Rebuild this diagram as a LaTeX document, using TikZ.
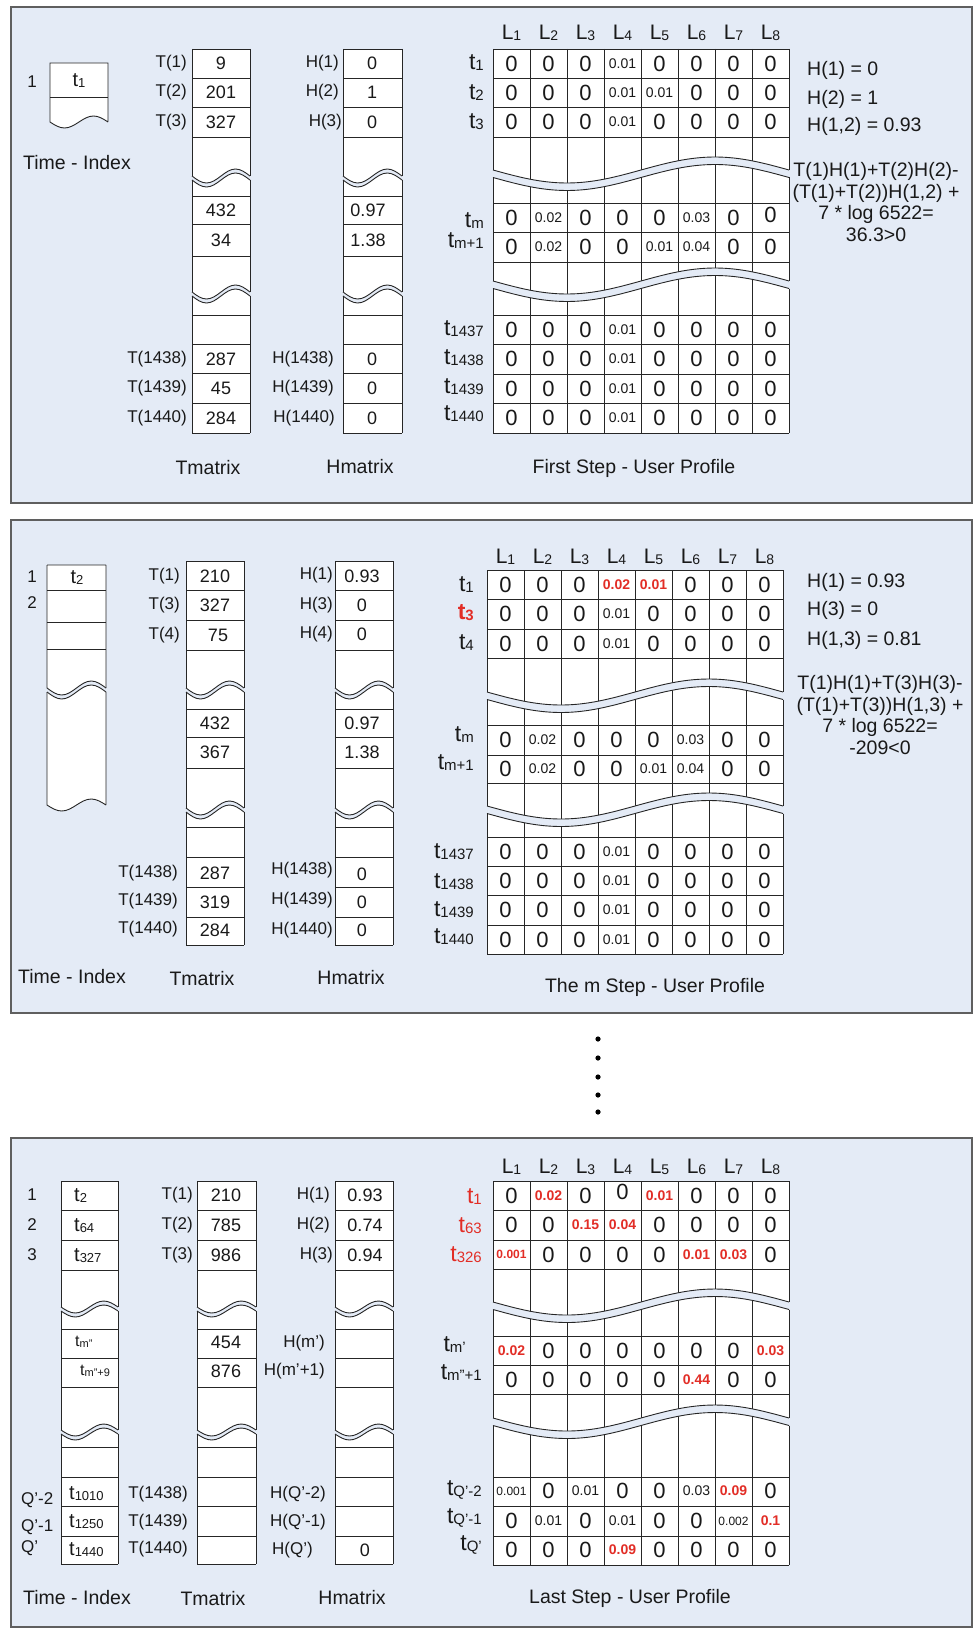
\documentclass[tikz,border=0pt]{standalone}
\usepackage{fontspec}
\setmainfont{Liberation Sans}
\definecolor{panelbg}{RGB}{228,235,246}
\definecolor{redc}{RGB}{226,45,38}
\definecolor{framec}{RGB}{95,95,95}
\newcommand\fs[1]{\fontsize{#1}{#1}\selectfont}
\newcommand\tlab[1]{{\fs{23}t\raisebox{-1pt}{\fs{15}#1}}}
\newcommand\tix[1]{{\fs{20}t\raisebox{-1pt}{\fs{13}#1}}}
\newcommand\tis[1]{{\fs{16}t\raisebox{-1pt}{\fs{11}#1}}}
\newcommand\llab[1]{{\fs{21}L\raisebox{-0.5pt}{\fs{14}#1}}}
\newcommand\zz{{\fs{22}0}}
\newcommand\zzu{\raisebox{6pt}{\zz}}
\newcommand\zzd{\raisebox{-5pt}{\zz}}
\newcommand\zzul{\raisebox{7pt}{\zz}\hspace{12pt}}
\newcommand\sm[1]{{\fs{14}#1}}
\newcommand\smm[1]{{\fs{12}#1}}
\newcommand\rd[1]{{\fs{14}\bfseries\color{redc}#1}}
\newcommand\rdm[1]{{\fs{12}\bfseries\color{redc}#1}}
\newcommand\wv[4]{sin ({#1+(#2-#1)/4},{#3+#4}) cos ({(#1+#2)/2},{#3}) sin ({#1+3*(#2-#1)/4},{#3-#4}) cos ({#2},{#3})}
\newcommand\wvr[4]{sin ({#1+3*(#2-#1)/4},{#3-#4}) cos ({(#1+#2)/2},{#3}) sin ({#1+(#2-#1)/4},{#3+#4}) cos ({#1},{#3})}
\newcommand\wband[5]{%
  \fill[panelbg] ({#1},{#3}) \wv{#1}{#2}{#3}{#4} -- ({#2},{#3+#5}) \wvr{#1}{#2}{#3+#5}{#4} -- cycle;
  \draw[cl] ({#1},{#3}) \wv{#1}{#2}{#3}{#4};
  \draw[cl] ({#1},{#3+#5}) \wv{#1}{#2}{#3+#5}{#4};}
\newcommand\colbox[9]{%
  \fill[white] ({#1},{#3}) rectangle ({#2},{#4});
  \foreach \yy in {#9} \draw[cl] ({#1},\yy) -- ({#2},\yy);
  \wband{#1}{#2}{#5}{#7}{#8}
  \wband{#1}{#2}{#6}{#7}{#8}
  \draw[cl] ({#1},{#3}) -- ({#2},{#3}) ({#1},{#4}) -- ({#2},{#4})
    ({#1},{#3}) -- ({#1},{#5}) ({#1},{#5+#8}) -- ({#1},{#6}) ({#1},{#6+#8}) -- ({#1},{#4})
    ({#2},{#3}) -- ({#2},{#5}) ({#2},{#5+#8}) -- ({#2},{#6}) ({#2},{#6+#8}) -- ({#2},{#4});}
\newcommand\gridbox[9]{%
  \fill[white] ({#1},{#3}) rectangle ({#1+8*#2},{#4});
  \foreach \yy in {#9} \draw[cl] ({#1},\yy) -- ({#1+8*#2},\yy);
  \foreach \k in {1,...,7} \draw[cl] ({#1+\k*#2},{#3}) -- ({#1+\k*#2},{#4});
  \wband{#1}{#1+8*#2}{#5}{#7}{#8}
  \wband{#1}{#1+8*#2}{#6}{#7}{#8}
  \draw[cl] ({#1},{#3}) -- ({#1+8*#2},{#3}) ({#1},{#4}) -- ({#1+8*#2},{#4})
    ({#1},{#3}) -- ({#1},{#5}) ({#1},{#5+#8}) -- ({#1},{#6}) ({#1},{#6+#8}) -- ({#1},{#4})
    ({#1+8*#2},{#3}) -- ({#1+8*#2},{#5}) ({#1+8*#2},{#5+#8}) -- ({#1+8*#2},{#6}) ({#1+8*#2},{#6+#8}) -- ({#1+8*#2},{#4});}
\newcommand\gridrow[5]{\foreach \v [count=\i] in {#5} \node[cell] (#1-\i) at ({#2+(\i-0.5)*#3},{#4}) {\v};}
\tikzset{
  cl/.style={draw=black!85, line width=0.9pt},
  panel/.style={fill=panelbg, draw=framec, line width=1.4pt},
  cell/.style={inner sep=0pt, anchor=center, text=black!90},
  lab/.style={inner sep=0pt, font=\fs{17}, text=black!90},
  val/.style={inner sep=0pt, font=\fs{18}, text=black!90},
  ttl/.style={inner sep=0pt, font=\fs{19.5}, text=black!90},
  hform/.style={inner sep=0pt, anchor=west, font=\fs{19.5}, text=black!90},
  form/.style={inner sep=0pt, font=\fontsize{19.5}{21.5}\selectfont, text=black!90, align=center},
}
\begin{document}
\begin{tikzpicture}[x=1pt,y=-1pt]
\useasboundingbox (0,0) rectangle (978,1629);
\fill[white] (0,0) rectangle (978,1629);
%================ PANEL 1
\draw[panel] (11,7) rectangle (972,503);
\fill[white] (50,63) -- (108,63) -- (108,122) \wvr{50}{108}{122}{6} -- cycle;
\draw[cl] (50,97) -- (108,97);
\draw[cl] (108,122) -- (108,63) -- (50,63) -- (50,122) \wv{50}{108}{122}{6};
\node[lab] (p1-i1) at (32,82) {1};
\node[cell] (p1-it1) at (79,81) {\tix{1}};
\node[ttl] (p1-ti) at (77,163) {Time - Index};
\colbox{192}{250}{49}{433}{176}{292}{7}{4}{78,107,137,196,224,256,315,344,373,403}
\colbox{343}{402}{49}{433}{176}{292}{7}{4}{78,107,137,196,224,256,315,344,373,403}
\foreach \y/\t [count=\i] in {63.5/T(1),92.5/T(2),122/T(3),359/T(1438),388/T(1439),418/T(1440)} \node[lab,anchor=east] (p1-tl\i) at (187,\y) {\t};
\foreach \y/\t [count=\i] in {63.5/9,92.5/201,122/327,210/432,240/34,359/287,388/45,418/284} \node[val] (p1-tv\i) at (221,\y) {\t};
\foreach \x/\y/\t [count=\i] in {339/63.5/H(1),339/92.5/H(2),342/122/H(3),334/359/H(1438),334/388/H(1439),335/418/H(1440)} \node[lab,anchor=east] (p1-hl\i) at (\x,\y) {\t};
\foreach \x/\y/\t [count=\i] in {372/63.5/0,372/92.5/1,372/122/0,368/210/0.97,368/240/1.38,372/359/0,372/388/0,372/418/0} \node[val] (p1-hv\i) at (\x,\y) {\t};
\node[ttl] (p1-tm) at (208,468) {Tmatrix};
\node[ttl] (p1-hm) at (360,467) {Hmatrix};
\gridbox{493}{37}{49}{433}{170}{281}{13}{7.5}{78,107,137,203,232.5,262,315,344,374,403}
\foreach \i in {1,...,8} \node[cell] (p1-L\i) at ({493+37*(\i-0.5)},33) {\llab{\i}};
\foreach \y/\t [count=\i] in {63/1,93/2,122/3,221/m,241/m+1,329/1437,358/1438,387/1439,414/1440} \node[cell,anchor=east] (p1-rl\i) at (484,\y) {\tlab{\t}};
\gridrow{p1-a}{493}{37}{63.5}{\zz,\zz,\zz,\sm{0.01},\zz,\zz,\zz,\zz}
\gridrow{p1-b}{493}{37}{92.5}{\zz,\zz,\zz,\sm{0.01},\sm{0.01},\zz,\zz,\zz}
\gridrow{p1-c}{493}{37}{122}{\zz,\zz,\zz,\sm{0.01},\zz,\zz,\zz,\zz}
\gridrow{p1-d}{493}{37}{218}{\zz,\sm{0.02},\zz,\zz,\zz,\sm{0.03},\zz,\zzu}
\gridrow{p1-e}{493}{37}{247}{\zz,\sm{0.02},\zz,\zz,\sm{0.01},\sm{0.04},\zz,\zz}
\gridrow{p1-f}{493}{37}{329.5}{\zz,\zz,\zz,\sm{0.01},\zz,\zz,\zz,\zz}
\gridrow{p1-g}{493}{37}{359}{\zz,\zz,\zz,\sm{0.01},\zz,\zz,\zz,\zz}
\gridrow{p1-h}{493}{37}{388.5}{\zz,\zz,\zz,\sm{0.01},\zz,\zz,\zz,\zz}
\gridrow{p1-k}{493}{37}{418}{\zz,\zz,\zz,\sm{0.01},\zz,\zz,\zz,\zz}
\node[hform] (p1-h1) at (807,70) {H(1) = 0};
\node[hform] (p1-h2) at (807,99) {H(2) = 1};
\node[hform] (p1-h12) at (807,126) {H(1,2) = 0.93};
\node[form] (p1-form) at (876,202) {T(1)H(1)+T(2)H(2)-\\(T(1)+T(2))H(1,2) +\\7 * log 6522=\\36.3>0};
\node[ttl] (p1-cap) at (634,468) {First Step - User Profile};
%================ PANEL 2
\draw[panel] (11,520) rectangle (972,1013);
\fill[white] (47,565) -- (106,565) -- (106,805) \wvr{47}{106}{805}{6} -- cycle;
\draw[cl] (47,590) -- (106,590) (47,622) -- (106,622) (47,649) -- (106,649);
\wband{47}{106}{688}{7}{4}
\draw[cl] (47,565) -- (106,565) (47,565) -- (47,688) (47,692) -- (47,805) \wv{47}{106}{805}{6} (106,805) -- (106,692) (106,688) -- (106,565);
\node[lab] (p2-i1) at (32,577) {1};
\node[lab] (p2-i2) at (32,603) {2};
\node[cell] (p2-it1) at (77,578) {\tix{2}};
\colbox{186}{244}{561}{945}{688}{808}{7}{4}{590,620,650,709,737,768,827,857,887,917}
\colbox{335}{393}{561}{945}{688}{808}{7}{4}{590,620,650,709,737,768,827,857,887,917}
\foreach \x/\y/\t [count=\i] in {180/576/T(1),180/605/T(3),180/635/T(4),178/873/T(1438),178/901/T(1439),178/929/T(1440)} \node[lab,anchor=east] (p2-tl\i) at (\x,\y) {\t};
\foreach \x/\y/\t [count=\i] in {215/576/210,215/605/327,218/635/75,215/723/432,215/752/367,215/873/287,215/902/319,215/930/284} \node[val] (p2-tv\i) at (\x,\y) {\t};
\foreach \y/\t [count=\i] in {575/H(1),605/H(3),634/H(4),870/H(1438),900/H(1439),930/H(1440)} \node[lab,anchor=east] (p2-hl\i) at (333,\y) {\t};
\foreach \x/\y/\t [count=\i] in {362/576/0.93,362/605/0,362/634/0,362/723/0.97,362/752/1.38,362/874/0,362/902/0,362/930/0} \node[val] (p2-hv\i) at (\x,\y) {\t};
\node[ttl] (p2-ti) at (72,977) {Time - Index};
\node[ttl] (p2-tm) at (202,979) {Tmatrix};
\node[ttl] (p2-hm) at (351,978) {Hmatrix};
\gridbox{487}{37}{570}{954}{692}{806}{13}{7.5}{599,629,658,725,755,783,837,866,895,925}
\foreach \i in {1,...,8} \node[cell] (p2-L\i) at ({487+37*(\i-0.5)},557) {\llab{\i}};
\node[cell,anchor=east] (p2-rl1) at (474,585) {\tlab{1}};
\node[cell,anchor=east,text=redc,font=\bfseries] (p2-rl2) at (474,613) {\tlab{3}};
\foreach \y/\t [count=\i from 3] in {643/4,735/m,763/m+1,852/1437,882/1438,910/1439,937/1440} \node[cell,anchor=east] (p2-rl\i) at (474,\y) {\tlab{\t}};
\gridrow{p2-a}{487}{37}{585}{\zz,\zz,\zz,\rd{0.02},\rd{0.01},\zz,\zz,\zz}
\gridrow{p2-b}{487}{37}{614}{\zz,\zz,\zz,\sm{0.01},\zz,\zz,\zz,\zz}
\gridrow{p2-c}{487}{37}{643.5}{\zz,\zz,\zz,\sm{0.01},\zz,\zz,\zz,\zz}
\gridrow{p2-d}{487}{37}{740}{\zz,\sm{0.02},\zz,\zz,\zz,\sm{0.03},\zz,\zz}
\gridrow{p2-e}{487}{37}{769}{\zz,\sm{0.02},\zz,\zz,\sm{0.01},\sm{0.04},\zz,\zz}
\gridrow{p2-f}{487}{37}{851.5}{\zz,\zz,\zz,\sm{0.01},\zz,\zz,\zz,\zz}
\gridrow{p2-g}{487}{37}{880.5}{\zz,\zz,\zz,\sm{0.01},\zz,\zz,\zz,\zz}
\gridrow{p2-h}{487}{37}{910}{\zz,\zz,\zz,\sm{0.01},\zz,\zz,\zz,\zz}
\gridrow{p2-k}{487}{37}{939.5}{\zz,\zz,\zz,\sm{0.01},\zz,\zz,\zz,\zz}
\node[hform] (p2-h1) at (807,582) {H(1) = 0.93};
\node[hform] (p2-h3) at (807,610) {H(3) = 0};
\node[hform] (p2-h13) at (807,640) {H(1,3) = 0.81};
\node[form] (p2-form) at (880,715) {T(1)H(1)+T(3)H(3)-\\(T(1)+T(3))H(1,3) +\\7 * log 6522=\\-209<0};
\node[ttl] (p2-cap) at (655,987) {The m Step - User Profile};
%================ DOTS
\foreach \y [count=\i] in {1039,1058,1077,1095,1112} \fill[black] (598,\y) circle (2.6) coordinate (dot\i);
%================ PANEL 3
\draw[panel] (11,1138) rectangle (972,1627);
\colbox{61}{118}{1181}{1564}{1307}{1430}{6}{4}{1210,1240,1270,1329,1358,1387,1447,1477,1506,1536}
\colbox{197}{256}{1181}{1564}{1307}{1430}{6}{4}{1210,1240,1270,1329,1358,1387,1447,1477,1506,1536}
\colbox{335}{393}{1181}{1564}{1307}{1430}{6}{4}{1210,1240,1270,1329,1358,1387,1447,1477,1506,1536}
\foreach \y/\t [count=\i] in {1195/1,1225/2,1255/3} \node[lab] (p3-i\i) at (32,\y) {\t};
\node[lab,anchor=west] (p3-q1) at (21,1500) {Q’-2};
\node[lab,anchor=west] (p3-q2) at (21,1527) {Q’-1};
\node[lab,anchor=west] (p3-q3) at (21,1548) {Q’};
\foreach \y/\t [count=\i] in {1196/2,1226/64,1256/327} \node[cell,anchor=west] (p3-it\i) at (74,\y) {\tix{\t}};
\node[cell,anchor=west] (p3-it4) at (75,1342) {\tis{m"}};
\node[cell,anchor=west] (p3-it5) at (80,1371) {\tis{m"+9}};
\foreach \y/\t [count=\i from 6] in {1494/1010,1522/1250,1550/1440} \node[cell,anchor=west] (p3-it\i) at (69,\y) {\tix{\t}};
\foreach \x/\y/\t [count=\i] in {193/1195/T(1),193/1225/T(2),193/1255/T(3),188/1494/T(1438),188/1522/T(1439),188/1549/T(1440)} \node[lab,anchor=east] (p3-tl\i) at (\x,\y) {\t};
\foreach \y/\t [count=\i] in {1195/210,1225/785,1255/986,1342/454,1371/876} \node[val] (p3-tv\i) at (226,\y) {\t};
\foreach \x/\y/\t [count=\i] in {330/1195/H(1),330/1225/H(2),333/1255/H(3),325/1343/H(m’),325/1371/H(m’+1),326/1494/H(Q’-2),326/1522/H(Q’-1),313/1550/H(Q’)} \node[lab,anchor=east] (p3-hl\i) at (\x,\y) {\t};
\foreach \y/\t [count=\i] in {1195/0.93,1225/0.74,1255/0.94,1550/0} \node[val] (p3-hv\i) at (365,\y) {\t};
\node[ttl] (p3-ti) at (77,1598) {Time - Index};
\node[ttl] (p3-tm) at (213,1599) {Tmatrix};
\node[ttl] (p3-hm) at (352,1598) {Hmatrix};
\gridbox{493}{37}{1181}{1565}{1302}{1418}{13}{7.5}{1210,1240,1269,1336,1365,1394,1477,1506,1536}
\foreach \i in {1,...,8} \node[cell] (p3-L\i) at ({493+37*(\i-0.5)},1167) {\llab{\i}};
\foreach \y/\t [count=\i] in {1197/1,1226/63,1255/326} \node[cell,anchor=east,text=redc] (p3-rl\i) at (482,\y) {\tlab{\t}};
\node[cell,anchor=east] (p3-rl4) at (466,1345) {\tlab{m'}};
\foreach \y/\t [count=\i from 5] in {1373/m"+1,1490/Q’-2,1518/Q’-1,1545/Q’} \node[cell,anchor=east] (p3-rl\i) at (482,\y) {\tlab{\t}};
\gridrow{p3-a}{493}{37}{1195.5}{\zz,\rd{0.02},\zz,\zzul,\rd{0.01},\zz,\zz,\zz}
\gridrow{p3-b}{493}{37}{1225}{\zz,\zz,\rd{0.15},\rd{0.04},\zzd,\zz,\zz,\zz}
\gridrow{p3-c}{493}{37}{1254.5}{\rdm{0.001},\zz,\zz,\zz,\zz,\rd{0.01},\rd{0.03},\zz}
\gridrow{p3-d}{493}{37}{1350.5}{\rd{0.02},\zz,\zz,\zz,\zz,\zz,\zz,\rd{0.03}}
\gridrow{p3-e}{493}{37}{1380}{\zz,\zz,\zz,\zz,\zzd,\rd{0.44},\zz,\zz}
\gridrow{p3-f}{493}{37}{1491}{\smm{0.001},\zz,\sm{0.01},\zzd,\zz,\sm{0.03},\rd{0.09},\zz}
\gridrow{p3-g}{493}{37}{1521}{\zz,\sm{0.01},\zz,\sm{0.01},\zz,\zz,\smm{0.002},\rd{0.1}}
\gridrow{p3-h}{493}{37}{1550}{\zz,\zz,\zz,\rd{0.09},\zz,\zz,\zz,\zz}
\node[ttl] (p3-cap) at (630,1598) {Last Step - User Profile};
\end{tikzpicture}
\end{document}
